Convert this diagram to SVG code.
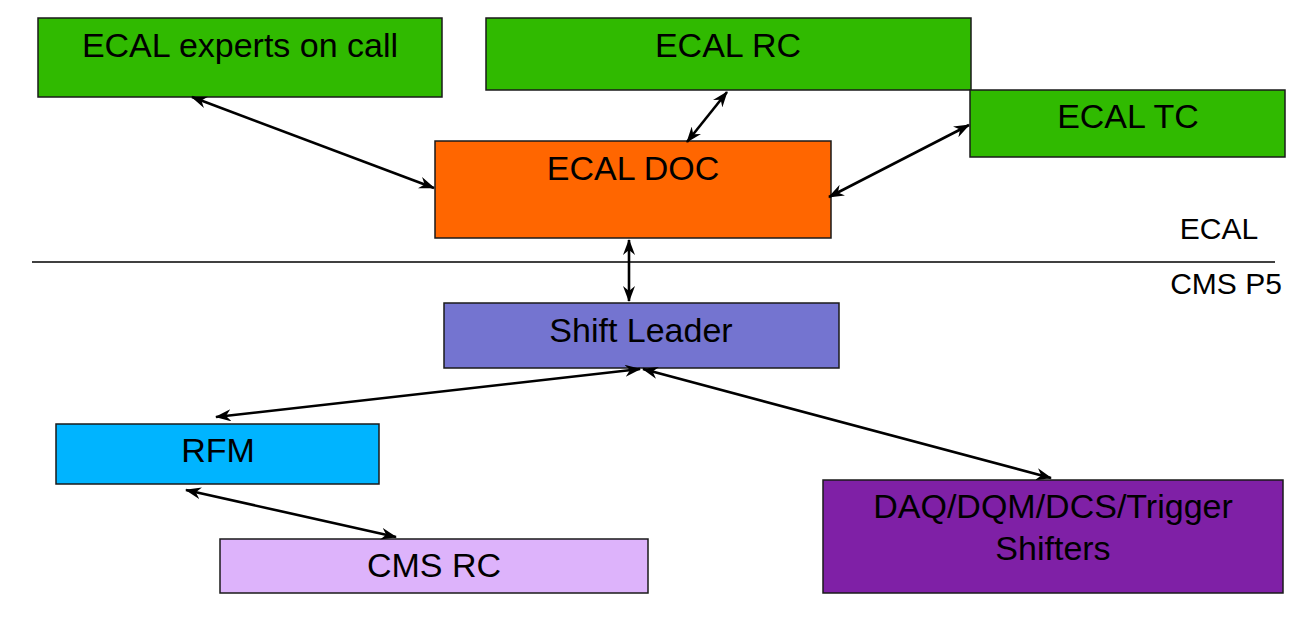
<svg xmlns="http://www.w3.org/2000/svg" width="1316" height="623" viewBox="0 0 1316 623">
<defs>
<style>
.box{stroke:#1a1a1a;stroke-width:1.5}
.t{font-family:"Liberation Sans",Arial,sans-serif;font-size:34px;fill:#000;text-anchor:middle}
.lbl{font-family:"Liberation Sans",Arial,sans-serif;font-size:30px;fill:#000;text-anchor:middle}
.c{stroke:#000;stroke-width:2.6;fill:none;marker-start:url(#ah);marker-end:url(#ah)}
</style>
<marker id="ah" viewBox="0 0 16 12" refX="15" refY="6" markerWidth="16" markerHeight="12" markerUnits="userSpaceOnUse" orient="auto-start-reverse">
<path d="M0,0 L16,6 L0,12 L5,6 z" fill="#000"/>
</marker>
</defs>
<rect width="1316" height="623" fill="#fff"/>
<g id="experts"><rect class="box" x="38" y="18" width="404" height="79" fill="#30BA00"/><text class="t" x="240" y="57">ECAL experts on call</text></g>
<g id="ecal-rc"><rect class="box" x="486" y="18" width="485" height="72" fill="#30BA00"/><text class="t" x="728" y="57">ECAL RC</text></g>
<g id="ecal-tc"><rect class="box" x="970" y="90" width="315" height="67" fill="#30BA00"/><text class="t" x="1128" y="128">ECAL TC</text></g>
<g id="ecal-doc"><rect class="box" x="435" y="141" width="396" height="97" fill="#FF6600"/><text class="t" x="633" y="180">ECAL DOC</text></g>
<g id="divider"><line x1="32" y1="262" x2="1275" y2="262" stroke="#000" stroke-width="1.5"/><text class="lbl" x="1219" y="239">ECAL</text><text class="lbl" x="1226" y="294">CMS P5</text></g>
<g id="shift-leader"><rect class="box" x="444" y="303" width="395" height="65" fill="#7474D0"/><text class="t" x="641" y="342">Shift Leader</text></g>
<g id="rfm"><rect class="box" x="56" y="424" width="323" height="60" fill="#00B4FF"/><text class="t" x="218" y="462">RFM</text></g>
<g id="cms-rc"><rect class="box" x="220" y="539" width="428" height="54" fill="#DDB3FB"/><text class="t" x="434" y="577">CMS RC</text></g>
<g id="shifters"><rect class="box" x="823" y="480" width="460" height="113" fill="#7F20A6"/><text class="t" x="1053" y="518">DAQ/DQM/DCS/Trigger</text><text class="t" x="1053" y="560">Shifters</text></g>
<g id="connectors">
<line class="c" x1="192" y1="97" x2="434" y2="188"/>
<line class="c" x1="727" y1="92" x2="687" y2="142"/>
<line class="c" x1="969" y1="125" x2="829" y2="197"/>
<line class="c" x1="629" y1="240" x2="629" y2="301"/>
<line class="c" x1="640" y1="369" x2="216" y2="417"/>
<line class="c" x1="643" y1="369" x2="1051" y2="478"/>
<line class="c" x1="186" y1="490" x2="396" y2="537"/>
</g>
</svg>
